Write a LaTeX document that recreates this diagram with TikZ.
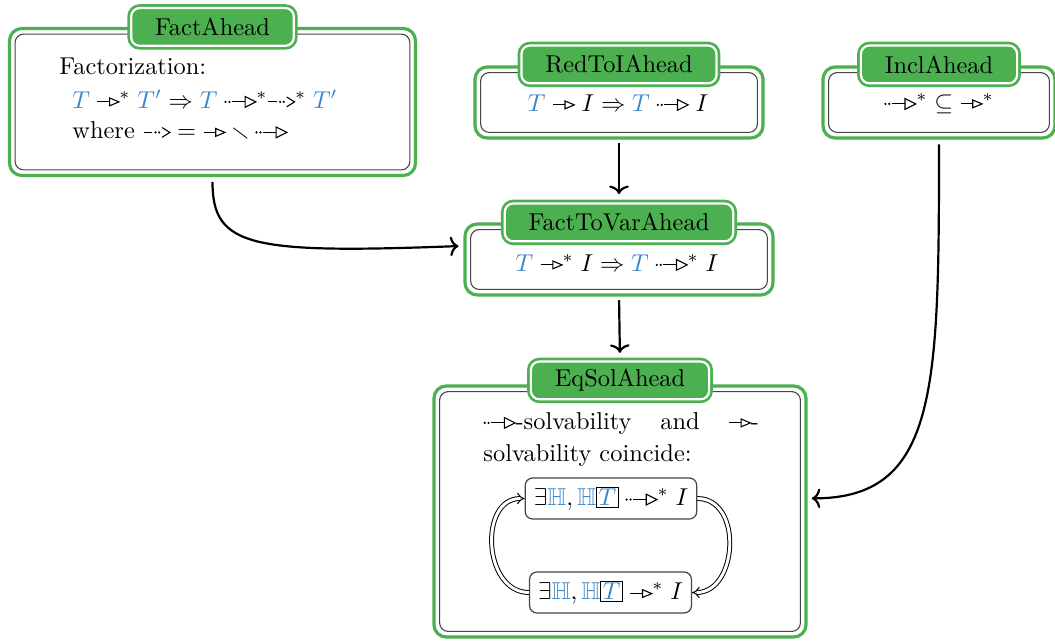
\documentclass[tikz,border=0pt]{standalone}
\usepackage{amssymb}
\usetikzlibrary{arrows.meta}

\definecolor{boxgreen}{RGB}{76,175,80}
\definecolor{tblue}{RGB}{60,135,200}
\definecolor{framegray}{RGB}{70,70,70}

% coloured terms
\newcommand{\tT}{\textcolor{tblue}{T}}
\newcommand{\tTp}{\textcolor{tblue}{T'}}
\newcommand{\tH}{\textcolor{tblue}{\mathbb{H}}}
\newcommand{\boxT}{{\setlength{\fboxsep}{0.6pt}\setlength{\fboxrule}{0.4pt}\fbox{$\tT$}}}

% small drawn relation symbols
\newcommand{\arrowpic}[1]{\tikz[baseline=-2.5pt,x=1pt,y=1pt,line width=0.45pt,
  sharp corners,solid,draw=black,fill=black,line join=miter]{#1}}
\newcommand{\redto}{\mathrel{\arrowpic{%
  \draw (0,0)--(5,0);
  \draw (5,-1.6)--(8.8,0)--(5,1.6)--cycle;}}}
\newcommand{\aheadto}{\mathrel{\arrowpic{%
  \fill (0.55,0) circle (0.5) (2.15,0) circle (0.5);
  \draw (3.1,0)--(8.6,0);
  \draw (8.6,-2.2)--(13,0)--(8.6,2.2)--cycle;}}}
\newcommand{\nonahead}{\mathrel{\arrowpic{%
  \draw (0,0)--(3.6,0);
  \fill (4.9,0) circle (0.5) (6.4,0) circle (0.5);
  \draw (7.6,-2)--(10.8,0)--(7.6,2);}}}

\newcommand{\pxu}{0.41pt}

\tikzset{
  outerbox/.style={draw=boxgreen, line width=1.3pt, rounded corners=5pt, fill=white},
  innerbox/.style={draw=framegray, line width=0.45pt, rounded corners=3.5pt},
  titlebox/.style={draw=boxgreen, double=white, double distance=0.9pt, line width=1.1pt,
    fill=boxgreen, rounded corners=3.5pt, minimum height=15.5pt, inner xsep=9.8pt,
    inner ysep=0pt, text=black},
  txt/.style={inner sep=0pt},
  smallbox/.style={draw=framegray, line width=0.5pt, rounded corners=3pt, fill=white,
    minimum height=16.8pt, inner xsep=3.5pt},
  conn/.style={line width=0.9pt, -{To[length=3.5pt,width=8pt]}},
  dbl/.style={line width=0.4pt, double, double distance=1.2pt, -{Implies}},
}

% framed box with its green title tab
\newcommand{\aheadbox}[6]{%
  \node[outerbox, minimum width=#4*\pxu, minimum height=#5*\pxu] (#1) at (#2,#3) {};
  \node[innerbox, minimum width=#4*\pxu-4.6pt, minimum height=#5*\pxu-4.6pt] (#1-in) at (#1.center) {};
  \node[titlebox] (#1-t) at ([yshift=#6*\pxu]#1.north) {\csname title#1\endcsname};
}
\newcommand{\titlefa}{FactAhead}
\newcommand{\titlerti}{RedToIAhead}
\newcommand{\titleincl}{InclAhead}
\newcommand{\titleftv}{FactToVarAhead}
\newcommand{\titleeqs}{EqSolAhead}

\begin{document}
\begin{tikzpicture}[x=0.41pt, y=-0.41pt]
\useasboundingbox (0,0) rectangle (1055,642);

\aheadbox{fa}{212.5}{102}{406}{147}{0}
\aheadbox{rti}{619}{102.5}{288}{71}{1}
\aheadbox{incl}{939}{102.5}{232}{71}{1}
\aheadbox{ftv}{619}{259.5}{308}{71}{0}
\aheadbox{eqs}{620}{511.5}{372}{251}{4}

% FactAhead contents
\node[txt, anchor=base west] (fa-l1) at (59,74) {Factorization:};
\node[txt, anchor=base west] (fa-l2) at (72,108)
  {$\tT \redto^* \tTp \Rightarrow \tT \aheadto^*\nonahead^* \tTp$};
\node[txt, anchor=base west] (fa-l3) at (72,138.5)
  {where ${\nonahead} = {\redto} \smallsetminus {\aheadto}$};

% one-line contents
\node[txt, anchor=base] (rti-l) at (618,111) {$\tT \redto I \Rightarrow \tT \aheadto I$};
\node[txt, anchor=base] (incl-l) at (939,110) {${\aheadto^*} \subseteq {\redto^*}$};
\node[txt, anchor=base] (ftv-l) at (617,271) {$\tT \redto^* I \Rightarrow \tT \aheadto^* I$};

% EqSolAhead contents
\node[txt, anchor=base west] (eqs-l1) at (483,429)
  {\makebox[113pt][l]{${\aheadto}$-solvability\hfill and\hfill ${\redto}$-}};
\node[txt, anchor=base west] (eqs-l2) at (483,461) {solvability coincide:};
\node[smallbox] (top) at (611,498.5) {$\exists\tH, \tH\boxT \aheadto^* I$};
\node[smallbox] (bot) at (610.5,592.5) {$\exists\tH, \tH\boxT \redto^* I$};

\draw[dbl] (bot.west) to[out=180, in=180, looseness=1.25] (top.west);
\draw[dbl] (top.east) to[out=0, in=0, looseness=1.25] (bot.east);

% connectors
\draw[conn, shorten <=1.5pt, shorten >=3.3pt] (rti.south) -- (ftv-t.north);
\draw[conn, shorten <=1.5pt, shorten >=3pt] (ftv.south) -- (eqs-t.north);
\draw[conn, shorten <=2pt, shorten >=2pt] (fa.south) .. controls +(0,70) and +(-213,8) .. (ftv.175);
\draw[conn, shorten <=2pt, shorten >=1.7pt] (incl.south) .. controls +(0,250) and +(130,0) .. (eqs.4);
\end{tikzpicture}
\end{document}
